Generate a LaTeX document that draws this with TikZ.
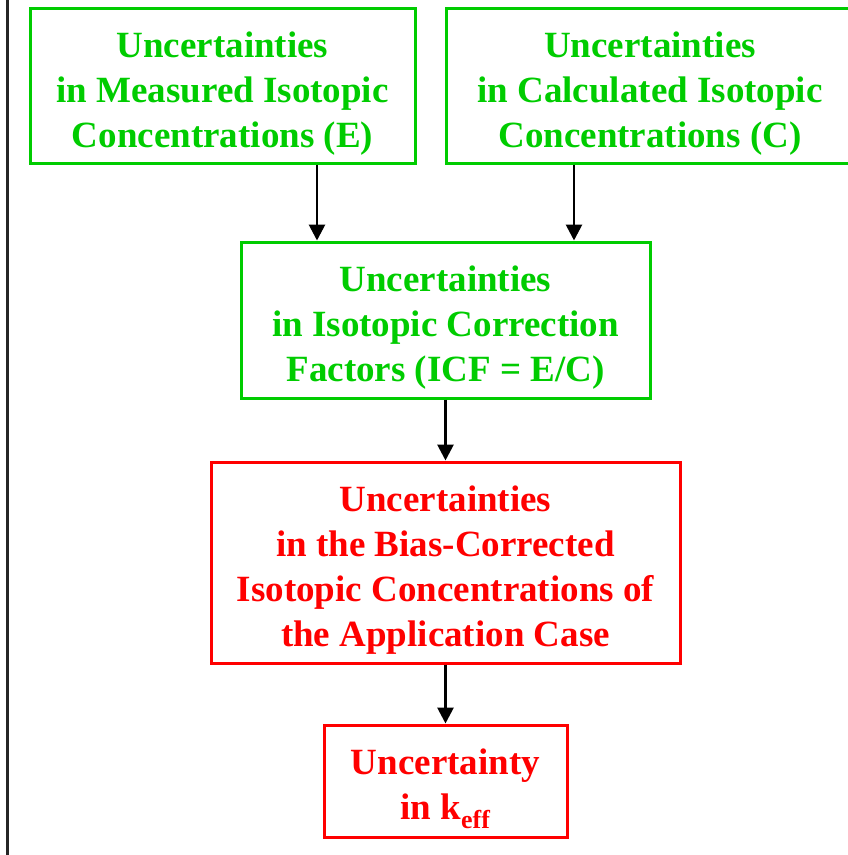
\documentclass[tikz,border=0pt]{standalone}
\usepackage{fontspec}
\setmainfont{Liberation Serif}
\usetikzlibrary{arrows.meta}
\definecolor{boxgreen}{RGB}{0,204,0}
\definecolor{boxred}{RGB}{255,0,0}
% taller first line: pushes the centred text block slightly down
\newcommand{\toppad}{\rule{0pt}{41pt}}
\begin{document}
\begin{tikzpicture}[x=1pt,y=-1pt,
  box/.style={draw, line width=3pt, align=center, inner sep=0pt,
    font=\fontsize{37}{45}\selectfont\bfseries},
  greenbox/.style={box, draw=boxgreen, text=boxgreen},
  redbox/.style={box, draw=boxred, text=boxred},
  flow/.style={line width=2.8pt, draw=black,
    -{Triangle[width=16pt,length=16pt]}}]
  \useasboundingbox (0,0) rectangle (848,855);
  % left frame rule
  \draw[line width=3pt, draw=black!85] (7,-5) -- (7,860);

  \node[greenbox, minimum width=385pt, minimum height=155pt] (meas) at (222.5,85.5)
    {\toppad Uncertainties\\in Measured Isotopic\\Concentrations (E)};
  \node[greenbox, minimum width=408pt, minimum height=155pt] (calc) at (650,85.5)
    {\toppad Uncertainties\\in Calculated Isotopic\\Concentrations (C)};
  \node[greenbox, minimum width=409pt, minimum height=156pt] (icf) at (445.5,320)
    {\toppad Uncertainties\\in Isotopic Correction\\Factors (ICF = E/C)};
  \node[redbox, minimum width=469pt, minimum height=201pt] (bias) at (445.5,562.5)
    {\toppad Uncertainties\\in the Bias-Corrected\\Isotopic Concentrations of\\the Application Case};
  \node[redbox, minimum width=243pt, minimum height=112pt] (keff) at (445.5,781)
    {\toppad Uncertainty\\in k\textsubscript{eff}};

  \draw[flow] (meas.south -| 317,0) -- (icf.north -| 317,0);
  \draw[flow] (calc.south -| 574,0) -- (icf.north -| 574,0);
  \draw[flow] (icf) -- (bias);
  \draw[flow] (bias) -- (keff);
\end{tikzpicture}
\end{document}
